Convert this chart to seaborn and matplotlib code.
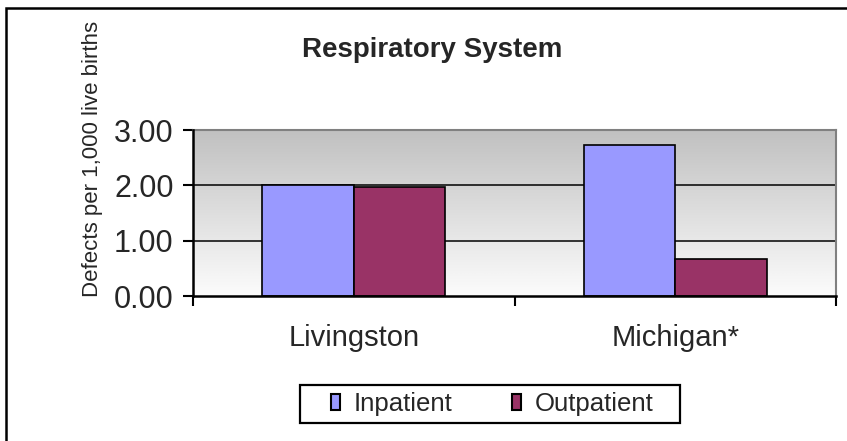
import numpy as np
import pandas as pd
import matplotlib
matplotlib.use("Agg")
import matplotlib.pyplot as plt
from matplotlib.patches import Rectangle, Patch
import seaborn as sns

categories = ["Livingston", "Michigan*"]
series = ["Inpatient", "Outpatient"]
inpatient = [2.00, 2.73]
outpatient = [1.97, 0.67]
colors = ["#9999FF", "#993366"]
yticks = [0.0, 1.0, 2.0, 3.0]

sns.set_theme(style="white")
plt.rcParams["font.family"] = ["Liberation Sans", "DejaVu Sans"]

df = pd.DataFrame({
    "Region": categories * 2,
    "Series": [series[0]] * 2 + [series[1]] * 2,
    "Value": inpatient + outpatient,
})

W, H = 847, 441
fig = plt.figure(figsize=(W / 100, H / 100), dpi=100)
fig.patch.set_facecolor("white")

ax = fig.add_axes([193 / W, 1 - 296 / H, (836 - 193) / W, (296 - 130) / H])

# gradient background: white at bottom to gray at top
t = np.linspace(0, 1, 256).reshape(-1, 1, 1)  # row 0 = bottom (origin lower)
bot = np.array([252, 252, 252]) / 255
top = np.array([192, 192, 192]) / 255
img = bot * (1 - t) + top * t
img = np.repeat(img, 2, axis=1)
ax.imshow(img, extent=[-0.5, 1.5, 0.0, 3.0], aspect="auto", zorder=0, origin="lower")

sns.barplot(data=df, x="Region", y="Value", hue="Series", order=categories,
            hue_order=series, palette=colors, width=0.57, gap=0,
            edgecolor="black", linewidth=1.2, saturation=1, ax=ax, zorder=3,
            legend=False)

ax.set_xlim(-0.5, 1.5)
ax.set_ylim(0, 3.0)
ax.set_yticks(yticks)
ax.set_yticklabels([f"{v:.2f}" for v in yticks], fontsize=22)
for y in yticks[1:3]:
    ax.axhline(y, color="black", lw=1.1, zorder=1)

ax.set_xticks([0, 1])
ax.set_xticklabels(categories, fontsize=21)
ax.set_xticks([-0.5, 0.5, 1.5], minor=True)
ax.tick_params(axis="x", which="major", length=0, pad=20)
ax.tick_params(axis="x", which="minor", length=7, width=1.5, color="black", direction="out", bottom=True)
ax.tick_params(axis="y", length=7, width=1.5, color="black", direction="out", left=True, pad=7)
ax.set_xlabel("")
ax.set_ylabel("Defects per 1,000 live births", fontsize=16)
ax.yaxis.set_label_coords((103 - 193) / (836 - 193), (296 - 159) / (296 - 130))

for s in ["left", "bottom"]:
    ax.spines[s].set_color("black")
    ax.spines[s].set_linewidth(1.8)
    ax.spines[s].set_zorder(5)
for s in ["top", "right"]:
    ax.spines[s].set_color("#808080")
    ax.spines[s].set_linewidth(1.5)

fig.text(432 / W, 1 - 57 / H, "Respiratory System", ha="center", va="baseline",
         fontsize=20, fontweight="bold")

handles = [Patch(facecolor=c, edgecolor="black", linewidth=1.5) for c in colors]
leg = fig.legend(handles, series, loc="center", bbox_to_anchor=(492 / W, 1 - 404 / H),
                 ncol=2, fontsize=18.5, frameon=False,
                 handlelength=0.35, handleheight=0.55, handletextpad=0.55,
                 columnspacing=2.3, borderpad=0.0, borderaxespad=0)
fig.patches.append(Rectangle((300 / W, 1 - 423 / H), 380 / W, 38 / H, transform=fig.transFigure,
                             fill=False, edgecolor="black", linewidth=1.6))

# outer chart border (runs off right and bottom)
fig.patches.append(Rectangle((6 / W, -0.05), 1.2, 1 - 8 / H + 0.05, transform=fig.transFigure,
                             fill=False, edgecolor="black", linewidth=1.8))

fig.savefig("out.png", dpi=100)
